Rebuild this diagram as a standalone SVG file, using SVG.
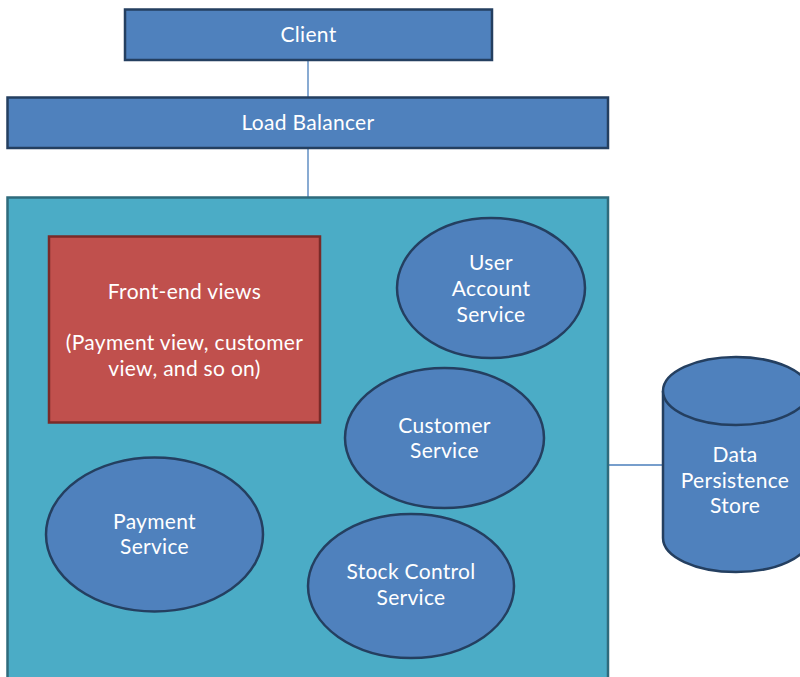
<svg xmlns="http://www.w3.org/2000/svg" width="800" height="677" viewBox="0 0 800 677">
<style>
.blue{fill:#4F81BD;stroke:#243F60;stroke-width:2.5}
.cont{fill:#4BACC6;stroke:#2F6B7C;stroke-width:2.5}
.red{fill:#C0504D;stroke:#7A2A28;stroke-width:2.5}
.edge{stroke:#4A7EBB;stroke-width:1.3;fill:none}
text{font-family:Lato,"Open Sans","Liberation Sans",sans-serif;font-size:21px;letter-spacing:0.3px;fill:#FFFFFF;text-anchor:middle}
</style>
<rect width="800" height="677" fill="#FFFFFF"/>
<g id="connectors">
<line class="edge" x1="308" y1="60" x2="308" y2="97"/>
<line class="edge" x1="308" y1="148" x2="308" y2="197"/>
<line class="edge" x1="608" y1="465" x2="663" y2="465"/>
<line class="edge" x1="321" y1="320" x2="397" y2="300"/>
<line class="edge" x1="320" y1="400" x2="350" y2="413"/>
<line class="edge" x1="162.5" y1="423" x2="162.5" y2="458"/>
<line class="edge" x1="272" y1="424" x2="350" y2="526"/>
</g>
<g id="client">
<rect class="blue" x="125" y="9.5" width="367" height="50.5"/>
<text x="308.5" y="41.5">Client</text>
</g>
<g id="load-balancer">
<rect class="blue" x="7.5" y="97.5" width="600.5" height="50.5"/>
<text x="308" y="129.5">Load Balancer</text>
</g>
<g id="app-container">
<rect class="cont" x="7.5" y="197.5" width="600.5" height="485"/>
</g>
<g id="front-end">
<rect class="red" x="49" y="236.5" width="271" height="186"/>
<text x="184.5" y="298.5">Front-end views</text>
<text x="184.5" y="349.5">(Payment view, customer</text>
<text x="184.5" y="375.5">view, and so on)</text>
</g>
<g id="user-account">
<ellipse class="blue" cx="491" cy="288" rx="94" ry="70"/>
<text x="491" y="269.5">User</text>
<text x="491" y="295.5">Account</text>
<text x="491" y="321.5">Service</text>
</g>
<g id="customer">
<ellipse class="blue" cx="444.5" cy="438" rx="99.5" ry="70"/>
<text x="444.5" y="432.5">Customer</text>
<text x="444.5" y="457.5">Service</text>
</g>
<g id="payment">
<ellipse class="blue" cx="154.5" cy="534.5" rx="108.5" ry="77"/>
<text x="154.5" y="528.5">Payment</text>
<text x="154.5" y="553.5">Service</text>
</g>
<g id="stock-control">
<ellipse class="blue" cx="411" cy="586" rx="103" ry="72"/>
<text x="411" y="578.5">Stock Control</text>
<text x="411" y="604.5">Service</text>
</g>
<g id="data-store">
<path class="blue" d="M663,391 L663,538 A73,34 0 0 0 809,538 L809,391"/>
<ellipse class="blue" cx="736" cy="391" rx="73" ry="34"/>
<text x="735" y="461.5">Data</text>
<text x="735" y="487.5">Persistence</text>
<text x="735" y="512.5">Store</text>
</g>
</svg>
